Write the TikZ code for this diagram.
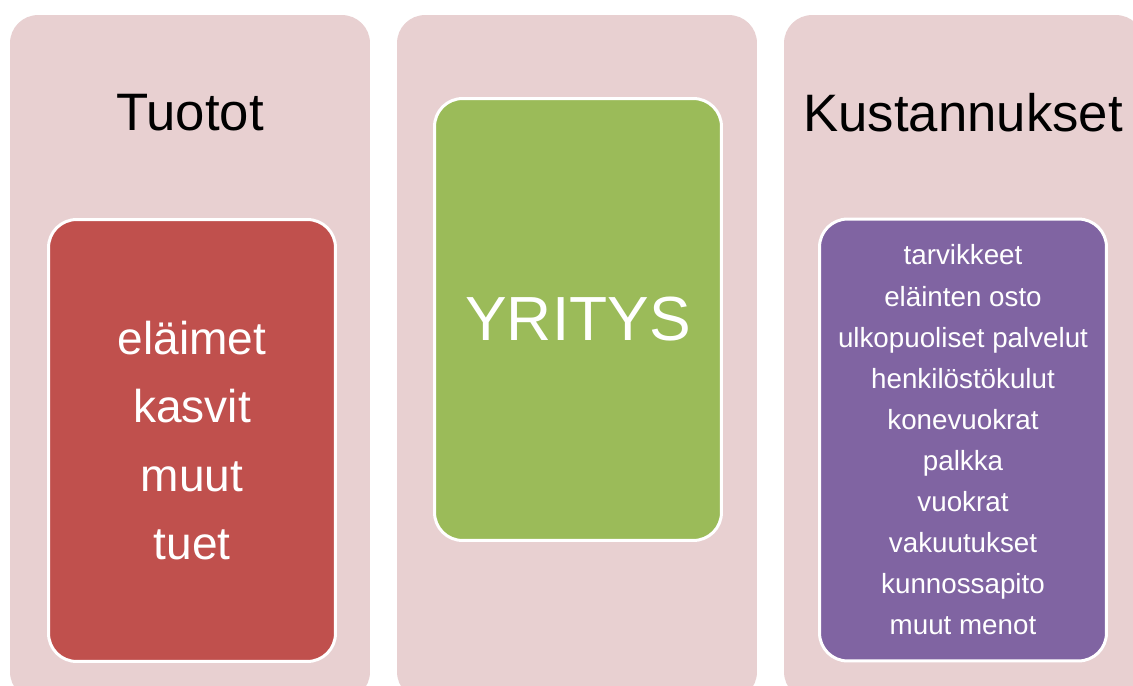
\documentclass[tikz,border=0pt]{standalone}
\usepackage{fontspec}
\setmainfont{Liberation Sans}
\usetikzlibrary{positioning}

\definecolor{panelpink}{HTML}{E8D0D1}
\definecolor{boxred}{HTML}{C0504D}
\definecolor{boxgreen}{HTML}{9BBB59}
\definecolor{boxpurple}{HTML}{8064A2}

\tikzset{
  panel/.style={fill=panelpink, rounded corners=0.56cm, minimum width=7.2cm, minimum height=13.7cm, inner sep=0pt},
  innerbox/.style={draw=white, line width=0.06cm, rounded corners=0.56cm, minimum width=5.74cm, minimum height=8.84cm, inner sep=0pt, text=white, align=center},
  title/.style={font=\fontsize{30}{36}\selectfont, text=black}
}

\begin{document}
\begin{tikzpicture}[x=0.02cm, y=-0.02cm]
  \useasboundingbox (0,0) rectangle (1133,686);
  \clip (0,0) rectangle (1133,686);
  \fill[white] (0,0) rectangle (1133,686);
  \foreach \cx/\nm in {190/tuotot, 577/yritys, 964/kulut} {
      \node[panel] (panel-\nm) at (\cx, 357.5) {};
  }
  \node[title] (title-tuotot) at (190, 113) {Tuotot};
  \node[title] (title-kulut) at (963, 113) {Kustannukset};
  \node[innerbox, fill=boxred, font=\fontsize{26.2}{39}\selectfont] (box-tuotot) at (192, 440.5)
      {eläimet\\kasvit\\muut\\tuet};
  \node[innerbox, fill=boxgreen, font=\fontsize{35.5}{44}\selectfont] (box-yritys) at (578, 319.5) {YRITYS};
  \node[innerbox, fill=boxpurple, font=\fontsize{15.8}{23.4}\selectfont] (box-kulut) at (963, 440)
      {tarvikkeet\\eläinten osto\\ulkopuoliset palvelut\\henkilöstökulut\\konevuokrat\\palkka\\vuokrat\\vakuutukset\\kunnossapito\\muut menot};
\end{tikzpicture}
\end{document}
